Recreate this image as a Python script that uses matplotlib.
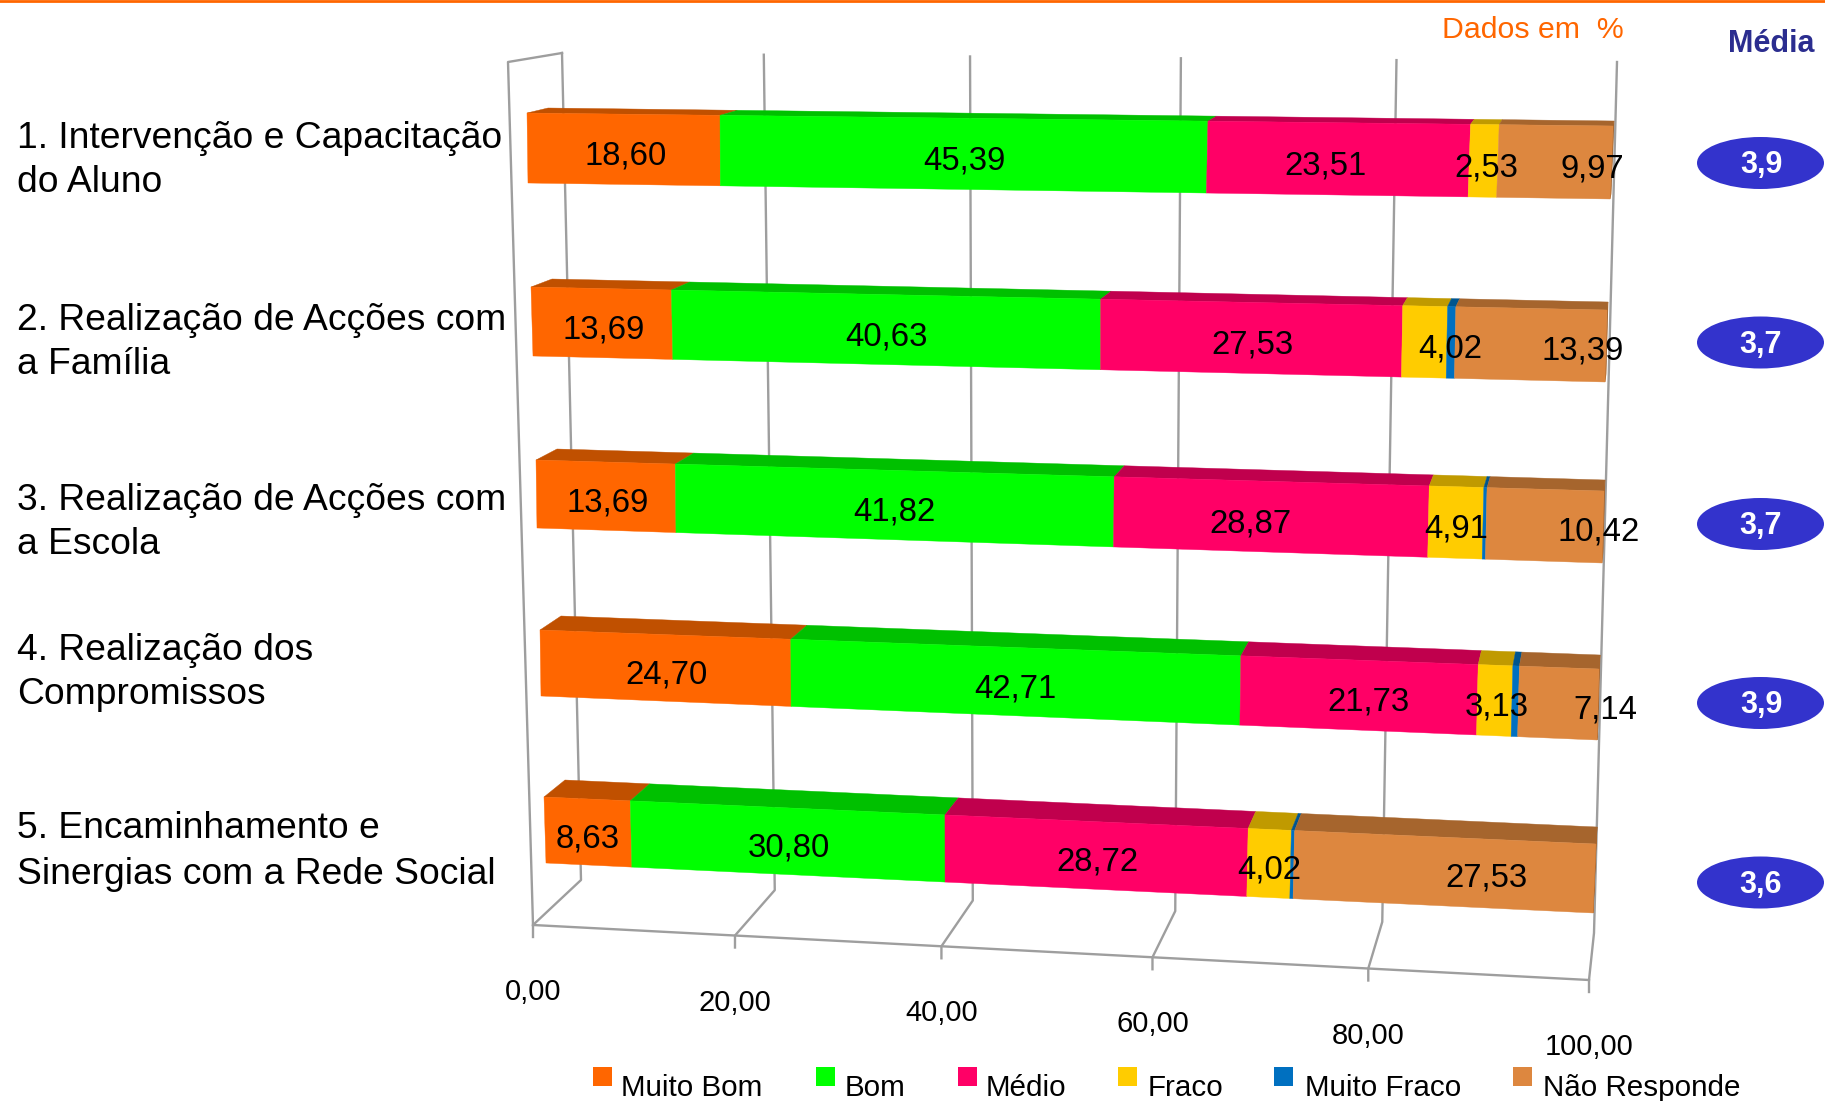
import matplotlib
matplotlib.use("Agg")
import matplotlib.pyplot as plt
from matplotlib.patches import Ellipse, Rectangle

plt.rcParams['font.family'] = ['Liberation Sans', 'DejaVu Sans']

# data
categories = ["1. Intervenção e Capacitação\ndo Aluno",
              "2. Realização de Acções com\na Família",
              "3. Realização de Acções com\na Escola",
              "4. Realização dos\nCompromissos",
              "5. Encaminhamento e\nSinergias com a Rede Social"]
series = ["Muito Bom", "Bom", "Médio", "Fraco", "Muito Fraco", "Não Responde"]
muito_bom = [18.60, 13.69, 13.69, 24.70, 8.63]
bom = [45.39, 40.63, 41.82, 42.71, 30.80]
medio = [23.51, 27.53, 28.87, 21.73, 28.72]
fraco = [2.53, 4.02, 4.91, 3.13, 4.02]
muito_fraco = [0.0, 0.74, 0.29, 0.59, 0.30]
nao_responde = [9.97, 13.39, 10.42, 7.14, 27.53]
medias = ["3,9", "3,7", "3,7", "3,9", "3,6"]
ticks = [0, 20, 40, 60, 80, 100]

values = [muito_bom, bom, medio, fraco, muito_fraco, nao_responde]

# colours (front face, top face)
front_cols = ['#FF6600', '#00FF00', '#FF0066', '#FFCC00', '#0070C0', '#DD873F']
top_cols = ['#C05000', '#00C000', '#C0004D', '#C09A00', '#00558F', '#A6652D']

# perspective of the 3d chart, in pixels
K = 1.057
# left top, left bottom, right top, right bottom of each bar front
bar_geom = [((527, 113), (528, 183), (1613, 126), (1610, 199)),
            ((531, 287), (533, 356), (1607, 310), (1605, 382)),
            ((536, 460), (537, 528), (1604, 491), (1602, 563)),
            ((540, 630), (541, 696), (1599, 669), (1597, 740)),
            ((544, 797), (546, 863), (1596, 844), (1593, 913))]
bar_dy = [5, 8, 11, 14, 17]
bar_dx = 20

wall_top = ((562, 53), (1617, 62))
wall_bot = ((581, 880), (1594, 933))
floor = ((533, 925), (1589, 980))

# small shifts of the value labels, in pixels
label_nudge = [[3, 3, -13, 2, 36],
               [3, 3, 2, 25, 51],
               [2, 2, -20, 0, 53],
               [2, 2, 10, 1, 46],
               [1, 3, 2, 0, 42]]


def frac(v):
    t = v / 100
    return t / (t + K * (1 - t))


def along(line, v):
    f = frac(v)
    return (line[0][0] + f * (line[1][0] - line[0][0]),
            line[0][1] + f * (line[1][1] - line[0][1]))


fig = plt.figure(figsize=(18.25, 11.01), dpi=100)
ax = fig.add_axes([0, 0, 1, 1])
ax.set_xlim(0, 1825)
ax.set_ylim(1101, 0)
ax.axis('off')

grid = '#9E9E9E'
ax.plot([0, 1825], [0.5, 0.5], color='#FF6600', lw=2)

# walls and grid
for t in ticks:
    a = along(wall_top, t)
    b = along(wall_bot, t)
    c = along(floor, t)
    ax.plot([a[0], b[0], c[0], c[0]], [a[1], b[1], c[1], c[1] + 12], color=grid, lw=1.7, zorder=1)
    ax.text(c[0], c[1] + 67, f"{t:.2f}".replace('.', ','), fontsize=21,
            ha='center', va='center')
ax.plot([floor[0][0], floor[1][0]], [floor[0][1], floor[1][1]], color=grid, lw=1.7, zorder=1)
ax.plot([floor[0][0], 508, wall_top[0][0]], [floor[0][1], 62, wall_top[0][1]], color=grid, lw=1.7, zorder=1)

# bars
for r, geom in enumerate(bar_geom):
    lt, lb, rt, rb = geom
    start = 0
    for s in range(len(series)):
        v = values[s][r]
        end = start + v
        f0 = frac(start)
        f1 = frac(min(end, 100))
        p0t = (lt[0] + f0 * (rt[0] - lt[0]), lt[1] + f0 * (rt[1] - lt[1]))
        p1t = (lt[0] + f1 * (rt[0] - lt[0]), lt[1] + f1 * (rt[1] - lt[1]))
        p0b = (lb[0] + f0 * (rb[0] - lb[0]), lb[1] + f0 * (rb[1] - lb[1]))
        p1b = (lb[0] + f1 * (rb[0] - lb[0]), lb[1] + f1 * (rb[1] - lb[1]))
        if v > 0:
            dx0 = bar_dx * (1 - f0) + 1
            dx1 = bar_dx * (1 - f1) + 1
            dy = bar_dy[r]
            ax.fill([p0t[0], p1t[0], p1t[0] + dx1, p0t[0] + dx0],
                    [p0t[1], p1t[1], p1t[1] - dy, p0t[1] - dy],
                    color=top_cols[s], lw=0.3, zorder=3)
            ax.fill([p0t[0], p1t[0], p1b[0], p0b[0]], [p0t[1], p1t[1], p1b[1], p0b[1]],
                    color=front_cols[s], lw=0.3, zorder=4)
        if s == len(series) - 1:
            # thin side of the bar end
            ax.fill([p1t[0], p1t[0] + 1, p1b[0] + 1, p1b[0]],
                    [p1t[1], p1t[1] - bar_dy[r], p1b[1] - bar_dy[r], p1b[1]],
                    color=top_cols[s], lw=0.5, zorder=3)
        start = end

    # value labels
    start = 0
    n = 0
    for s in range(len(series)):
        v = values[s][r]
        if s != 4:
            fm = frac(start + v / 2)
            x = lt[0] + fm * (rt[0] - lt[0]) + label_nudge[r][n]
            y = (lt[1] + fm * (rt[1] - lt[1]) + lb[1] + fm * (rb[1] - lb[1])) / 2 + 7
            ax.text(x, y, f"{v:.2f}".replace('.', ','), fontsize=23.7, ha='center',
                    va='center', zorder=6)
            n += 1
        start += v

# category labels
label_y = [(138, 183), (320, 365), (500, 544), (650, 694), (829, 875)]
for cat, ys in zip(categories, label_y):
    for line, y in zip(cat.split('\n'), ys):
        ax.text(17, y, line, fontsize=26.8, ha='left', va='center')

# media ovals
oval_y = [163, 342.5, 524, 703, 882.5]
for m, y in zip(medias, oval_y):
    ax.add_patch(Ellipse((1760.5, y), 127, 52, facecolor='#3333CC', edgecolor='none', zorder=5))
    ax.text(1761, y + 2, m, color='white', fontsize=22, fontweight='bold', ha='center',
            va='center', zorder=6)

ax.text(1533, 30, "Dados em  %", color='#FF6600', fontsize=21.8, ha='center', va='center')
ax.text(1771, 44, "Média", color='#2B2D8F', fontsize=22, fontweight='bold', ha='center', va='center')

# legend
swatch_x = [593, 816, 958, 1118, 1274, 1513]
text_x = [621, 845, 986, 1148, 1305, 1543]
for name, col, sx, tx in zip(series, front_cols, swatch_x, text_x):
    ax.add_patch(Rectangle((sx, 1067), 19, 19, facecolor=col, edgecolor='none'))
    ax.text(tx, 1096, name, fontsize=21.3, ha='left', va='baseline')

fig.savefig('out.png', dpi=100)
